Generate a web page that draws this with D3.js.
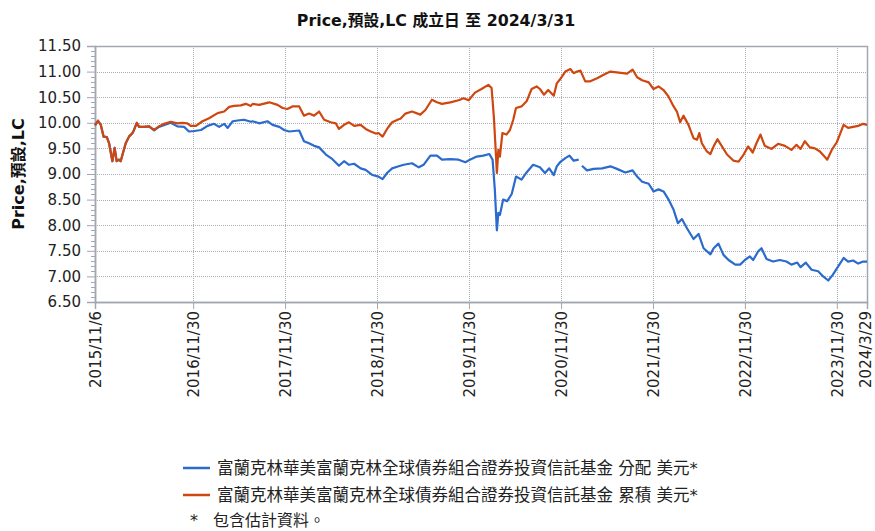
<!DOCTYPE html>
<html>
<head>
<meta charset="utf-8">
<script src="https://cdn.jsdelivr.net/npm/d3@7"></script>
<style>
  body { margin: 0; background: #fff; }
  svg { display: block; font-family: "DejaVu Sans", "Noto Sans CJK TC", sans-serif; }
</style>
</head>
<body>
<svg id="chart" width="875" height="531"></svg>
<script>
const titleText = "Price,預設,LC 成立日 至 2024/3/31";
const yTitle = "Price,預設,LC";
const yTicks = [6.5, 7, 7.5, 8, 8.5, 9, 9.5, 10, 10.5, 11, 11.5];
const xTickDates = ["2015-11-06", "2016-11-30", "2017-11-30", "2018-11-30", "2019-11-30",
  "2020-11-30", "2021-11-30", "2022-11-30", "2023-11-30", "2024-03-29"];
const xTickLabels = ["2015/11/6", "2016/11/30", "2017/11/30", "2018/11/30", "2019/11/30",
  "2020/11/30", "2021/11/30", "2022/11/30", "2023/11/30", "2024/3/29"];
const seriesNames = [
  "富蘭克林華美富蘭克林全球債券組合證券投資信託基金 分配 美元*",
  "富蘭克林華美富蘭克林全球債券組合證券投資信託基金 累積 美元*"
];
const footnote = "包含估計資料。";

// distribution class (blue)
const distribution = [
  ["2015-11-06", 9.95], ["2015-11-18", 10.04], ["2015-11-29", 9.96], ["2015-12-10", 9.73],
  ["2015-12-23", 9.72], ["2016-01-01", 9.60], ["2016-01-14", 9.25], ["2016-01-23", 9.51],
  ["2016-01-31", 9.25], ["2016-02-09", 9.28], ["2016-02-16", 9.25], ["2016-02-25", 9.41],
  ["2016-03-07", 9.60], ["2016-03-20", 9.73], ["2016-04-03", 9.80], ["2016-04-09", 9.86],
  ["2016-04-20", 10.00], ["2016-04-29", 9.92], ["2016-05-19", 9.92], ["2016-06-08", 9.93],
  ["2016-06-28", 9.85], ["2016-07-17", 9.92], ["2016-09-02", 10.00], ["2016-09-28", 9.93],
  ["2016-10-25", 9.92], ["2016-11-13", 9.83], ["2016-12-04", 9.84], ["2016-12-31", 9.86],
  ["2017-01-26", 9.94], ["2017-02-21", 9.98], ["2017-03-13", 9.92], ["2017-04-02", 9.98],
  ["2017-04-16", 9.90], ["2017-05-06", 10.03], ["2017-06-01", 10.05], ["2017-06-20", 10.06],
  ["2017-07-17", 10.02], ["2017-07-24", 10.03], ["2017-08-19", 9.99], ["2017-09-21", 10.03],
  ["2017-10-11", 9.96], ["2017-11-07", 9.92], ["2017-11-26", 9.86], ["2017-12-16", 9.83],
  ["2018-01-25", 9.85], ["2018-02-13", 9.64], ["2018-03-05", 9.60], ["2018-03-25", 9.55],
  ["2018-04-14", 9.52], ["2018-05-11", 9.38], ["2018-06-06", 9.29], ["2018-07-02", 9.16],
  ["2018-07-22", 9.25], ["2018-08-11", 9.18], ["2018-08-31", 9.20], ["2018-09-26", 9.11],
  ["2018-10-16", 9.08], ["2018-11-12", 8.98], ["2018-12-06", 8.95], ["2018-12-22", 8.90],
  ["2019-01-09", 9.02], ["2019-01-29", 9.11], ["2019-02-24", 9.15], ["2019-03-16", 9.18],
  ["2019-04-18", 9.21], ["2019-05-15", 9.13], ["2019-06-03", 9.18], ["2019-06-30", 9.36],
  ["2019-07-26", 9.36], ["2019-08-15", 9.28], ["2019-09-17", 9.29], ["2019-10-20", 9.28],
  ["2019-11-16", 9.23], ["2019-12-04", 9.28], ["2019-12-31", 9.34], ["2020-01-26", 9.36],
  ["2020-02-19", 9.39], ["2020-03-03", 9.28], ["2020-03-12", 8.69], ["2020-03-20", 7.90],
  ["2020-03-26", 8.24], ["2020-04-01", 8.20], ["2020-04-14", 8.50], ["2020-04-30", 8.47],
  ["2020-05-18", 8.61], ["2020-06-04", 8.95], ["2020-06-26", 8.89], ["2020-07-16", 9.03],
  ["2020-08-11", 9.18], ["2020-09-07", 9.13], ["2020-09-27", 9.02], ["2020-10-14", 9.11],
  ["2020-11-01", 8.98], ["2020-11-13", 9.15], ["2020-11-26", 9.23], ["2020-12-17", 9.31],
  ["2021-01-02", 9.36], ["2021-01-19", 9.26], ["2021-02-08", 9.28], ["2021-02-12", null],
  ["2021-02-21", 9.16], ["2021-03-13", 9.07], ["2021-04-08", 9.10], ["2021-05-12", 9.11],
  ["2021-06-14", 9.15], ["2021-07-10", 9.10], ["2021-08-12", 9.03], ["2021-09-10", 9.07],
  ["2021-09-28", 8.95], ["2021-10-18", 8.85], ["2021-11-13", 8.81], ["2021-12-02", 8.66],
  ["2021-12-22", 8.70], ["2022-01-11", 8.66], ["2022-01-31", 8.50], ["2022-02-20", 8.30],
  ["2022-03-09", 8.04], ["2022-03-25", 8.12], ["2022-04-14", 7.94], ["2022-05-10", 7.73],
  ["2022-05-30", 7.83], ["2022-06-19", 7.55], ["2022-07-16", 7.43], ["2022-07-29", 7.55],
  ["2022-08-17", 7.64], ["2022-09-06", 7.42], ["2022-09-26", 7.32], ["2022-10-23", 7.23],
  ["2022-11-11", 7.23], ["2022-11-30", 7.32], ["2022-12-20", 7.39], ["2023-01-02", 7.32],
  ["2023-01-22", 7.49], ["2023-02-04", 7.55], ["2023-02-24", 7.34], ["2023-03-22", 7.29],
  ["2023-04-18", 7.32], ["2023-05-14", 7.29], ["2023-06-03", 7.23], ["2023-06-26", 7.27],
  ["2023-07-09", 7.18], ["2023-07-30", 7.27], ["2023-08-22", 7.13], ["2023-09-17", 7.10],
  ["2023-10-07", 7.00], ["2023-10-27", 6.92], ["2023-11-14", 7.03], ["2023-12-05", 7.19],
  ["2023-12-27", 7.36], ["2024-01-14", 7.29], ["2024-02-03", 7.31], ["2024-02-23", 7.25],
  ["2024-03-14", 7.29], ["2024-03-29", 7.29]
];

// accumulation class (orange)
const accumulation = [
  ["2015-11-06", 9.95], ["2015-11-18", 10.04], ["2015-11-29", 9.96], ["2015-12-10", 9.73],
  ["2015-12-23", 9.72], ["2016-01-01", 9.60], ["2016-01-14", 9.25], ["2016-01-23", 9.51],
  ["2016-01-31", 9.25], ["2016-02-09", 9.28], ["2016-02-16", 9.25], ["2016-02-25", 9.41],
  ["2016-03-07", 9.60], ["2016-03-20", 9.73], ["2016-04-03", 9.80], ["2016-04-09", 9.86],
  ["2016-04-20", 10.00], ["2016-04-29", 9.92], ["2016-05-19", 9.92], ["2016-06-08", 9.93],
  ["2016-06-27", 9.86], ["2016-07-17", 9.93], ["2016-08-06", 9.98], ["2016-09-02", 10.02],
  ["2016-09-28", 9.99], ["2016-10-18", 10.00], ["2016-11-07", 9.99], ["2016-11-20", 9.94],
  ["2016-12-11", 9.94], ["2017-01-06", 10.03], ["2017-02-01", 10.09], ["2017-03-07", 10.19],
  ["2017-04-02", 10.22], ["2017-04-22", 10.31], ["2017-05-12", 10.33], ["2017-06-07", 10.34],
  ["2017-06-27", 10.37], ["2017-07-17", 10.33], ["2017-07-24", 10.37], ["2017-08-19", 10.35],
  ["2017-09-28", 10.40], ["2017-10-31", 10.35], ["2017-11-20", 10.29], ["2017-12-09", 10.27],
  ["2017-12-29", 10.32], ["2018-01-25", 10.32], ["2018-02-13", 10.14], ["2018-03-05", 10.18],
  ["2018-03-25", 10.14], ["2018-04-14", 10.22], ["2018-05-04", 10.06], ["2018-05-30", 10.01],
  ["2018-06-19", 9.99], ["2018-07-02", 9.88], ["2018-07-22", 9.96], ["2018-08-11", 10.01],
  ["2018-08-31", 9.94], ["2018-09-26", 9.96], ["2018-10-16", 9.88], ["2018-11-05", 9.83],
  ["2018-11-25", 9.79], ["2018-12-06", 9.80], ["2018-12-22", 9.73], ["2019-01-09", 9.88],
  ["2019-01-29", 10.01], ["2019-02-24", 10.07], ["2019-03-03", 10.08], ["2019-03-23", 10.18],
  ["2019-04-18", 10.22], ["2019-05-21", 10.16], ["2019-06-10", 10.25], ["2019-07-06", 10.45],
  ["2019-07-26", 10.40], ["2019-08-15", 10.37], ["2019-09-17", 10.40], ["2019-10-20", 10.44],
  ["2019-11-09", 10.48], ["2019-11-29", 10.44], ["2019-12-24", 10.59], ["2020-01-19", 10.66],
  ["2020-02-15", 10.74], ["2020-02-28", 10.68], ["2020-03-08", 10.12], ["2020-03-16", 9.41],
  ["2020-03-20", 9.02], ["2020-03-26", 9.47], ["2020-04-01", 9.34], ["2020-04-11", 9.80],
  ["2020-04-27", 9.77], ["2020-05-11", 9.86], ["2020-05-24", 10.06], ["2020-06-04", 10.29],
  ["2020-06-26", 10.32], ["2020-07-16", 10.42], ["2020-08-05", 10.66], ["2020-08-25", 10.71],
  ["2020-09-07", 10.66], ["2020-09-23", 10.55], ["2020-10-10", 10.64], ["2020-11-01", 10.53],
  ["2020-11-13", 10.77], ["2020-11-26", 10.85], ["2020-12-17", 11.00], ["2021-01-06", 11.05],
  ["2021-01-19", 10.97], ["2021-02-01", 11.00], ["2021-02-15", 11.02], ["2021-03-06", 10.81],
  ["2021-03-26", 10.81], ["2021-04-22", 10.87], ["2021-05-18", 10.94], ["2021-06-14", 11.00],
  ["2021-07-17", 10.98], ["2021-08-19", 10.96], ["2021-09-10", 11.04], ["2021-09-28", 10.89],
  ["2021-10-18", 10.83], ["2021-11-13", 10.79], ["2021-12-02", 10.66], ["2021-12-22", 10.71],
  ["2022-01-11", 10.64], ["2022-01-31", 10.51], ["2022-02-20", 10.32], ["2022-03-05", 10.22],
  ["2022-03-18", 10.01], ["2022-03-31", 10.14], ["2022-04-20", 9.96], ["2022-05-10", 9.70],
  ["2022-05-24", 9.67], ["2022-06-02", 9.80], ["2022-06-12", 9.60], ["2022-07-02", 9.44],
  ["2022-07-16", 9.39], ["2022-07-29", 9.54], ["2022-08-13", 9.68], ["2022-08-31", 9.54],
  ["2022-09-20", 9.38], ["2022-10-16", 9.26], ["2022-11-05", 9.24], ["2022-11-25", 9.38],
  ["2022-12-13", 9.54], ["2022-12-31", 9.42], ["2023-01-15", 9.60], ["2023-01-31", 9.77],
  ["2023-02-17", 9.55], ["2023-03-16", 9.49], ["2023-04-11", 9.59], ["2023-05-08", 9.55],
  ["2023-06-03", 9.47], ["2023-06-23", 9.57], ["2023-07-09", 9.49], ["2023-07-26", 9.64],
  ["2023-08-15", 9.52], ["2023-09-04", 9.50], ["2023-09-24", 9.44], ["2023-10-14", 9.33],
  ["2023-10-23", 9.28], ["2023-11-10", 9.47], ["2023-11-30", 9.62], ["2023-12-12", 9.77],
  ["2023-12-27", 9.96], ["2024-01-14", 9.90], ["2024-02-03", 9.92], ["2024-02-23", 9.94],
  ["2024-03-14", 9.98], ["2024-03-29", 9.96]
];

const colors = ["#2a6bcd", "#cf4710"];
const font = "'DejaVu Sans', 'Noto Sans CJK TC', sans-serif";

const parse = d3.timeParse("%Y-%m-%d");
const svg = d3.select("#chart");
const margin = {left: 95, top: 46, right: 8, bottom: 229};
const W = 875 - margin.left - margin.right;
const H = 531 - margin.top - margin.bottom;

const x = d3.scaleTime()
  .domain([parse(xTickDates[0]), parse(xTickDates[xTickDates.length - 1])])
  .range([0, W]);
const y = d3.scaleLinear().domain([6.5, 11.5]).range([H, 0]);

const g = svg.append("g").attr("transform", `translate(${margin.left},${margin.top})`);

// grid
g.append("g").selectAll("line").data(yTicks.slice(1, -1)).join("line")
  .attr("x1", 0).attr("x2", W)
  .attr("y1", d => Math.round(y(d)) + 0.5).attr("y2", d => Math.round(y(d)) + 0.5)
  .attr("stroke", "#a9acb6").attr("stroke-dasharray", "1,1");
g.append("g").selectAll("line").data(xTickDates.slice(1, -1)).join("line")
  .attr("x1", d => Math.round(x(parse(d))) + 0.5).attr("x2", d => Math.round(x(parse(d))) + 0.5)
  .attr("y1", 0).attr("y2", H)
  .attr("stroke", "#a9acb6").attr("stroke-dasharray", "1,1");

// frame
g.append("rect").attr("x", 0.5).attr("y", 0.5).attr("width", W).attr("height", H)
  .attr("fill", "none").attr("stroke", "#a2a6b2").attr("stroke-width", 1.5);

// y axis
const yAxis = g.append("g").call(d3.axisLeft(y).tickValues(yTicks)
  .tickFormat(d3.format(".2f")).tickSize(8).tickPadding(6))
  .attr("font-family", font).attr("font-size", 15);
yAxis.select(".domain").attr("stroke", "#a2a6b2").attr("stroke-width", 1.5);
yAxis.selectAll(".tick line").attr("stroke", "#a2a6b2");
yAxis.selectAll("text").attr("fill", "#222");

const minor = d3.range(6.5, 11.501, 0.1).filter(v => Math.abs(v * 2 - Math.round(v * 2)) > 0.01);
g.append("g").selectAll("line").data(minor).join("line")
  .attr("x1", -4).attr("x2", 0)
  .attr("y1", d => Math.round(y(d)) + 0.5).attr("y2", d => Math.round(y(d)) + 0.5)
  .attr("stroke", "#a2a6b2");

// x axis
const xAxis = g.append("g").attr("transform", `translate(0,${H})`)
  .call(d3.axisBottom(x).tickValues(xTickDates.map(parse))
    .tickFormat((d, i) => xTickLabels[i]).tickSize(7).tickPadding(5))
  .attr("font-family", font).attr("font-size", 15);
xAxis.select(".domain").attr("stroke", "#a2a6b2").attr("stroke-width", 1.5);
xAxis.selectAll(".tick line").attr("stroke", "#a2a6b2");
xAxis.selectAll("text")
  .attr("fill", "#222")
  .attr("transform", "rotate(-90)")
  .attr("text-anchor", "end")
  .attr("x", -9).attr("y", 0)
  .attr("dy", (d, i) => i === xTickDates.length - 1 ? "0.2em" : "0.35em");

// lines
const line = d3.line()
  .defined(d => d[1] !== null)
  .x(d => x(parse(d[0])))
  .y(d => y(d[1]));

[distribution, accumulation].forEach((s, i) => {
  g.append("path").datum(s)
    .attr("fill", "none")
    .attr("stroke", colors[i])
    .attr("stroke-width", 2.2)
    .attr("stroke-linejoin", "round")
    .attr("d", line);
});

// titles
svg.append("text").attr("x", 436).attr("y", 26)
  .attr("text-anchor", "middle").attr("font-weight", "bold").attr("font-size", 15.8)
  .attr("fill", "#111").text(titleText);

svg.append("text")
  .attr("transform", `translate(24,${margin.top + H / 2}) rotate(-90)`)
  .attr("text-anchor", "middle").attr("font-weight", "bold").attr("font-size", 16)
  .attr("fill", "#111").text(yTitle);

// legend
const legend = svg.append("g");
seriesNames.forEach((name, i) => {
  const ly = 468 + i * 27;
  legend.append("line").attr("x1", 183).attr("x2", 210).attr("y1", ly).attr("y2", ly)
    .attr("stroke", colors[i]).attr("stroke-width", 2.5);
  legend.append("text").attr("x", 217).attr("y", ly).attr("dy", "0.35em")
    .attr("font-size", 16.5).attr("fill", "#222").text(name);
});
legend.append("text").attr("x", 190).attr("y", 520).attr("dy", "0.35em")
  .attr("font-size", 16).attr("fill", "#222").text("*");
legend.append("text").attr("x", 213).attr("y", 520).attr("dy", "0.35em")
  .attr("font-size", 16).attr("fill", "#222").text(footnote);
</script>
</body>
</html>
